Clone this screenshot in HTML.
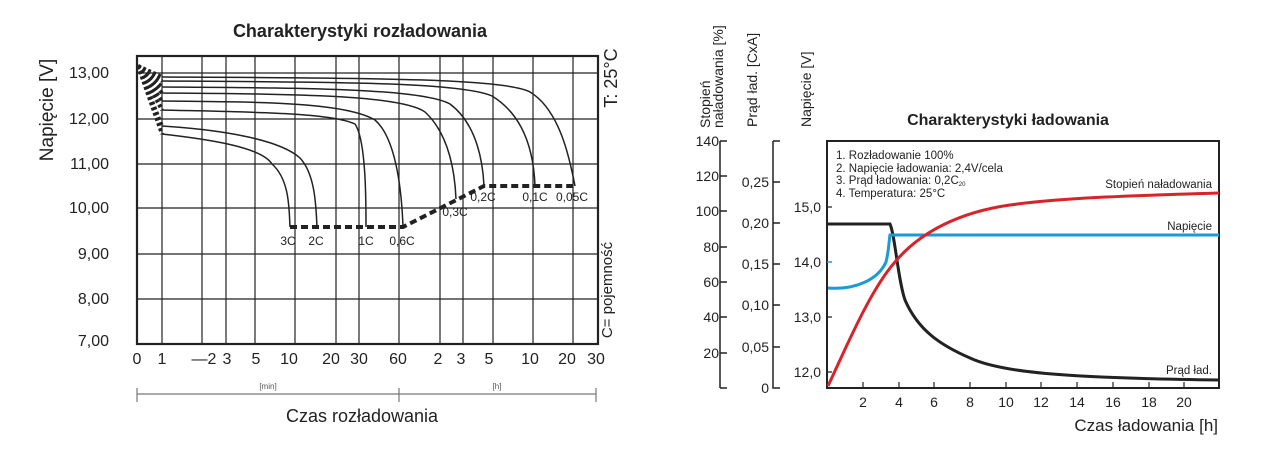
<!DOCTYPE html>
<html><head><meta charset="utf-8"><style>
html,body{margin:0;padding:0;background:#fff;}
svg{display:block;font-family:"Liberation Sans",sans-serif;}
</style></head><body>
<svg width="1282" height="456" viewBox="0 0 1282 456">
<!-- LEFT CHART -->
<text x="360" y="37" font-size="18" font-weight="bold" text-anchor="middle" fill="#222">Charakterystyki rozładowania</text>
<g stroke="#222" stroke-width="1.2">
<line x1="137" y1="73" x2="598" y2="73"/><line x1="137" y1="119" x2="598" y2="119"/>
<line x1="137" y1="164" x2="598" y2="164"/><line x1="137" y1="208" x2="598" y2="208"/>
<line x1="137" y1="254" x2="598" y2="254"/><line x1="137" y1="299" x2="598" y2="299"/>
<line x1="162" y1="56" x2="162" y2="344"/><line x1="202" y1="56" x2="202" y2="344"/>
<line x1="226" y1="56" x2="226" y2="344"/><line x1="255" y1="56" x2="255" y2="344"/>
<line x1="295" y1="56" x2="295" y2="344"/><line x1="336" y1="56" x2="336" y2="344"/>
<line x1="359" y1="56" x2="359" y2="344"/><line x1="399" y1="56" x2="399" y2="344"/>
<line x1="440" y1="56" x2="440" y2="344"/><line x1="463" y1="56" x2="463" y2="344"/>
<line x1="493" y1="56" x2="493" y2="344"/><line x1="533" y1="56" x2="533" y2="344"/>
<line x1="573" y1="56" x2="573" y2="344"/>
</g>
<rect x="137" y="56" width="461" height="288" fill="none" stroke="#222" stroke-width="2.2"/>
<g fill="none" stroke="#222" stroke-width="1.5">
<path d="M162 134 C215 140 262 148 272 164 C290 180 289 210 290 227"/>
<path d="M162 126 C225 130 280 140 300 158 C316 175 316 210 317 227"/>
<path d="M162 110 C240 112 330 112 355 124 C366 140 366 200 366 227"/>
<path d="M162 101 C260 102 345 102 375 120 C398 140 402 200 403 227"/>
<path d="M162 93 C280 94 400 94 425 112 C450 135 455 175 456 199"/>
<path d="M162 87 C300 88 420 88 450 104 C478 125 483 165 484 186"/>
<path d="M162 81 C330 82 460 82 492 96 C528 118 534 160 535 186"/>
<path d="M162 77 C360 78 505 78 530 92 C560 110 570 160 575 186"/>
</g>
<g fill="none" stroke="#222" stroke-width="4" stroke-dasharray="7,4">
<path d="M290 227 L403 227 L484 186 L575 186"/>
</g>
<g fill="none" stroke="#222" stroke-width="4" stroke-dasharray="3,2.5">
<path d="M138 66 L162 77"/><path d="M138 66 L162 81"/><path d="M138 66 L162 87"/>
<path d="M138 66 L162 93"/><path d="M138 66 L162 101"/><path d="M138 66 L162 110"/>
<path d="M138 66 L162 126"/><path d="M138 66 L162 134"/>
</g>
<g font-size="12" fill="#222" text-anchor="middle">
<text x="288" y="245">3C</text><text x="316" y="245">2C</text><text x="366" y="245">1C</text><text x="402" y="245">0,6C</text>
<text x="455" y="216">0,3C</text><text x="483" y="201">0,2C</text><text x="535" y="201">0,1C</text><text x="572" y="201">0,05C</text>
</g>
<g font-size="16" fill="#222" text-anchor="end">
<text x="109" y="78">13,00</text><text x="109" y="124">12,00</text><text x="109" y="169">11,00</text>
<text x="109" y="213">10,00</text><text x="109" y="259">9,00</text><text x="109" y="304">8,00</text><text x="109" y="346">7,00</text>
</g>
<text transform="translate(53,110) rotate(-90)" font-size="19" text-anchor="middle" fill="#222">Napięcie  [V]</text>
<text transform="translate(617,78) rotate(-90)" font-size="18" text-anchor="middle" fill="#222">T: 25°C</text>
<text transform="translate(612,290) rotate(-90)" font-size="15" text-anchor="middle" fill="#222">C= pojemność</text>
<g font-size="16" fill="#222" text-anchor="middle">
<text x="137" y="364">0</text><text x="162" y="364">1</text><text x="204" y="364">—2</text><text x="227" y="364">3</text>
<text x="256" y="364">5</text><text x="289" y="364">10</text><text x="331" y="364">20</text><text x="359" y="364">30</text>
<text x="398" y="364">60</text><text x="438" y="364">2</text><text x="461" y="364">3</text><text x="489" y="364">5</text>
<text x="530" y="364">10</text><text x="567" y="364">20</text><text x="596" y="364">30</text>
</g>
<g stroke="#777" stroke-width="1.2"><line x1="137" y1="394" x2="596" y2="394"/><line x1="137" y1="388" x2="137" y2="402"/><line x1="399" y1="388" x2="399" y2="402"/><line x1="596" y1="388" x2="596" y2="402"/></g>
<text x="268" y="389" font-size="8" fill="#555" text-anchor="middle">[min]</text>
<text x="497" y="389" font-size="8" fill="#555" text-anchor="middle">[h]</text>
<text x="362" y="422" font-size="18" fill="#222" text-anchor="middle">Czas rozładowania</text>

<!-- RIGHT CHART -->
<text x="1008" y="125" font-size="16" font-weight="bold" text-anchor="middle" fill="#222">Charakterystyki ładowania</text>
<g font-size="14" fill="#222">
<text transform="translate(710,128) rotate(-90)">Stopień</text>
<text transform="translate(723,128) rotate(-90)">naładowania [%]</text>
<text transform="translate(757,127) rotate(-90)">Prąd ład.  [CxA]</text>
<text transform="translate(811,127) rotate(-90)">Napięcie  [V]</text>
</g>
<g stroke="#222" stroke-width="1.5" fill="none">
<path d="M720 141 V388"/>
<path d="M720 141 H727 M720 176 H727 M720 211 H727 M720 247 H727 M720 282 H727 M720 317 H727 M720 353 H727 M720 388 H727"/>
<path d="M773 141 H780 M773 141 V388 H780 M773 182 H780 M773 223 H780 M773 264 H780 M773 305 H780 M773 347 H780"/>
</g>
<g font-size="14" fill="#222" text-anchor="end">
<text x="719" y="146">140</text><text x="719" y="181">120</text><text x="719" y="216">100</text><text x="719" y="252">80</text>
<text x="719" y="287">60</text><text x="719" y="322">40</text><text x="719" y="358">20</text>
<text x="769" y="187">0,25</text><text x="769" y="228">0,20</text><text x="769" y="269">0,15</text>
<text x="769" y="310">0,10</text><text x="769" y="352">0,05</text><text x="769" y="393">0</text>
<text x="821" y="212">15,0</text><text x="821" y="267">14,0</text><text x="821" y="322">13,0</text><text x="821" y="377">12,0</text>
</g>
<rect x="827" y="141" width="392" height="247" fill="none" stroke="#222" stroke-width="2"/>
<g stroke="#222" stroke-width="1.2">
<path d="M863 388 V382 M899 388 V382 M934 388 V382 M970 388 V382 M1006 388 V382 M1041 388 V382 M1077 388 V382 M1113 388 V382 M1149 388 V382 M1184 388 V382"/>
<path d="M827 207 H832 M827 317 H832 M827 372 H832"/>
</g>
<path d="M827 262 H832" stroke="#1a9ad6" stroke-width="1.5"/>
<g font-size="14" fill="#222" text-anchor="middle">
<text x="863" y="407">2</text><text x="899" y="407">4</text><text x="934" y="407">6</text><text x="970" y="407">8</text>
<text x="1006" y="407">10</text><text x="1041" y="407">12</text><text x="1077" y="407">14</text><text x="1113" y="407">16</text>
<text x="1149" y="407">18</text><text x="1184" y="407">20</text>
</g>
<text x="1218" y="431" font-size="17" fill="#222" text-anchor="end">Czas ładowania [h]</text>
<g font-size="11.5" fill="#222">
<text x="836" y="159">1. Rozładowanie 100%</text>
<text x="836" y="172">2. Napięcie ładowania: 2,4V/cela</text>
<text x="836" y="184">3. Prąd ładowania: 0,2C<tspan font-size="6" dy="2">20</tspan></text>
<text x="836" y="197">4. Temperatura: 25°C</text>
<text x="1212" y="188" text-anchor="end">Stopień naładowania</text>
<text x="1212" y="230" text-anchor="end">Napięcie</text>
<text x="1212" y="374" text-anchor="end">Prąd ład.</text>
</g>
<path d="M828 224 H890 C895 235 898 280 905 300 C918 330 940 345 970 358 C1000 372 1060 378 1219 380" fill="none" stroke="#222" stroke-width="3"/>
<path d="M828 288 C855 290 878 280 886 262 C889 250 889 240 890 235 H1219" fill="none" stroke="#1a9ad6" stroke-width="3"/>
<path d="M828 386 C845 350 870 290 895 262 C920 232 960 212 1010 205 C1060 198 1120 196 1219 193" fill="none" stroke="#d8232a" stroke-width="3"/>
</svg>
</body></html>
